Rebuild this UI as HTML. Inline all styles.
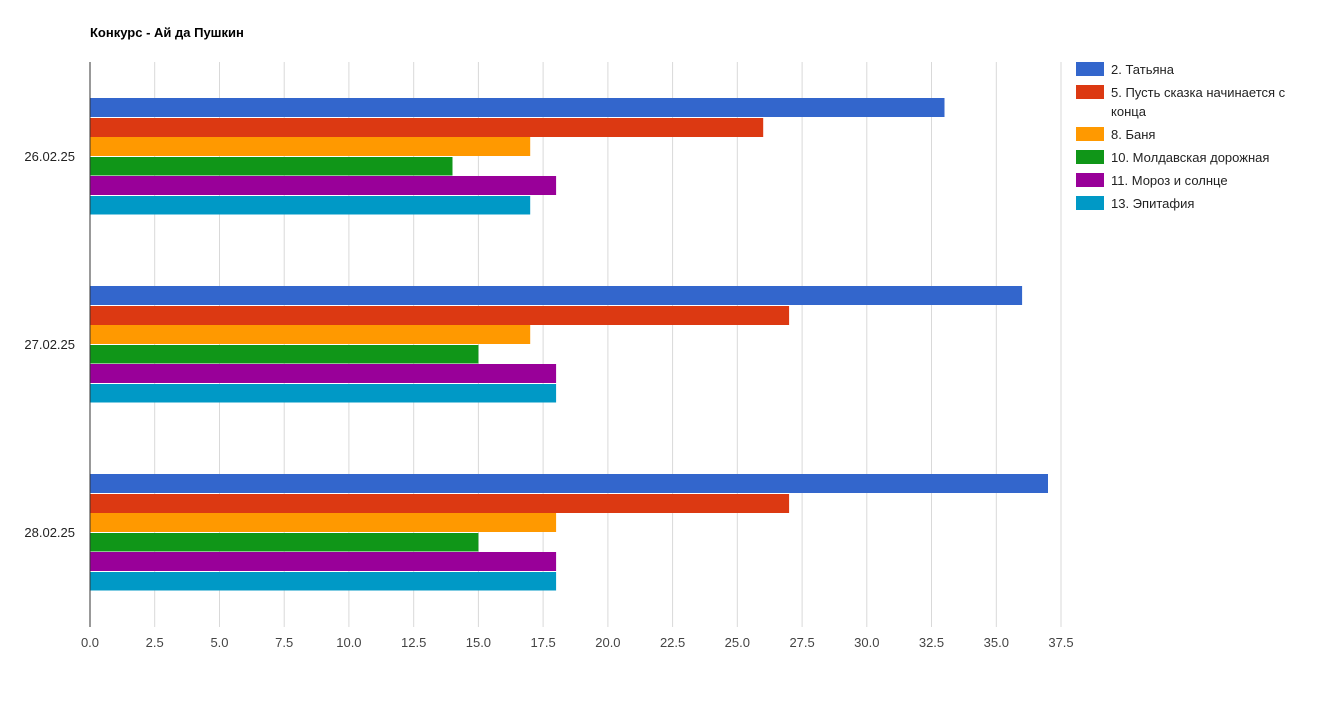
<!DOCTYPE html>
<html><head><meta charset="utf-8"><style>
body{margin:0;background:#fff;}
text{font-family:"Liberation Sans","DejaVu Sans",sans-serif;}
</style></head><body>
<svg width="1323" height="722" xmlns="http://www.w3.org/2000/svg">
<rect width="1323" height="722" fill="#fff"/>
<text x="90" y="37" font-size="13" font-weight="bold" fill="#000">Конкурс - Ай да Пушкин</text>
<g stroke="#d9d9d9" stroke-width="1">
<line x1="154.7" y1="62" x2="154.7" y2="627"/><line x1="219.5" y1="62" x2="219.5" y2="627"/>
<line x1="284.2" y1="62" x2="284.2" y2="627"/><line x1="348.9" y1="62" x2="348.9" y2="627"/>
<line x1="413.7" y1="62" x2="413.7" y2="627"/><line x1="478.4" y1="62" x2="478.4" y2="627"/>
<line x1="543.1" y1="62" x2="543.1" y2="627"/><line x1="607.9" y1="62" x2="607.9" y2="627"/>
<line x1="672.6" y1="62" x2="672.6" y2="627"/><line x1="737.3" y1="62" x2="737.3" y2="627"/>
<line x1="802.1" y1="62" x2="802.1" y2="627"/><line x1="866.8" y1="62" x2="866.8" y2="627"/>
<line x1="931.5" y1="62" x2="931.5" y2="627"/><line x1="996.3" y1="62" x2="996.3" y2="627"/>
<line x1="1061" y1="62" x2="1061" y2="627"/>
</g>
<g>
<rect x="90" y="98" width="854.5" height="19" fill="#3366cc"/>
<rect x="90" y="118" width="673.2" height="19" fill="#dc3912"/>
<rect x="90" y="137" width="440.2" height="19" fill="#ff9900"/>
<rect x="90" y="157" width="362.5" height="18.5" fill="#109618"/>
<rect x="90" y="176" width="466.1" height="19" fill="#990099"/>
<rect x="90" y="196" width="440.2" height="18.5" fill="#0099c6"/>

<rect x="90" y="286" width="932.1" height="19" fill="#3366cc"/>
<rect x="90" y="306" width="699.1" height="19" fill="#dc3912"/>
<rect x="90" y="325" width="440.2" height="19" fill="#ff9900"/>
<rect x="90" y="345" width="388.4" height="18.5" fill="#109618"/>
<rect x="90" y="364" width="466.1" height="19" fill="#990099"/>
<rect x="90" y="384" width="466.1" height="18.5" fill="#0099c6"/>

<rect x="90" y="474" width="958" height="19" fill="#3366cc"/>
<rect x="90" y="494" width="699.1" height="19" fill="#dc3912"/>
<rect x="90" y="513" width="466.1" height="19" fill="#ff9900"/>
<rect x="90" y="533" width="388.4" height="18.5" fill="#109618"/>
<rect x="90" y="552" width="466.1" height="19" fill="#990099"/>
<rect x="90" y="572" width="466.1" height="18.5" fill="#0099c6"/>
</g>
<line x1="90" y1="62" x2="90" y2="627" stroke="#333" stroke-width="1"/>
<g font-size="13" fill="#222" text-anchor="end">
<text x="75" y="161">26.02.25</text>
<text x="75" y="349">27.02.25</text>
<text x="75" y="537">28.02.25</text>
</g>
<g font-size="13" fill="#444" text-anchor="middle">
<text x="90" y="647">0.0</text><text x="154.7" y="647">2.5</text><text x="219.5" y="647">5.0</text>
<text x="284.2" y="647">7.5</text><text x="348.9" y="647">10.0</text><text x="413.7" y="647">12.5</text>
<text x="478.4" y="647">15.0</text><text x="543.1" y="647">17.5</text><text x="607.9" y="647">20.0</text>
<text x="672.6" y="647">22.5</text><text x="737.3" y="647">25.0</text><text x="802.1" y="647">27.5</text>
<text x="866.8" y="647">30.0</text><text x="931.5" y="647">32.5</text><text x="996.3" y="647">35.0</text>
<text x="1061" y="647">37.5</text>
</g>
<g>
<rect x="1076" y="62" width="28" height="14" fill="#3366cc"/>
<rect x="1076" y="85" width="28" height="14" fill="#dc3912"/>
<rect x="1076" y="127" width="28" height="14" fill="#ff9900"/>
<rect x="1076" y="150" width="28" height="14" fill="#109618"/>
<rect x="1076" y="173" width="28" height="14" fill="#990099"/>
<rect x="1076" y="196" width="28" height="14" fill="#0099c6"/>
</g>
<g font-size="13" fill="#222">
<text x="1111" y="74">2. Татьяна</text>
<text x="1111" y="97">5. Пусть сказка начинается с</text>
<text x="1111" y="116">конца</text>
<text x="1111" y="139">8. Баня</text>
<text x="1111" y="162">10. Молдавская дорожная</text>
<text x="1111" y="185">11. Мороз и солнце</text>
<text x="1111" y="208">13. Эпитафия</text>
</g>
</svg>
</body></html>
